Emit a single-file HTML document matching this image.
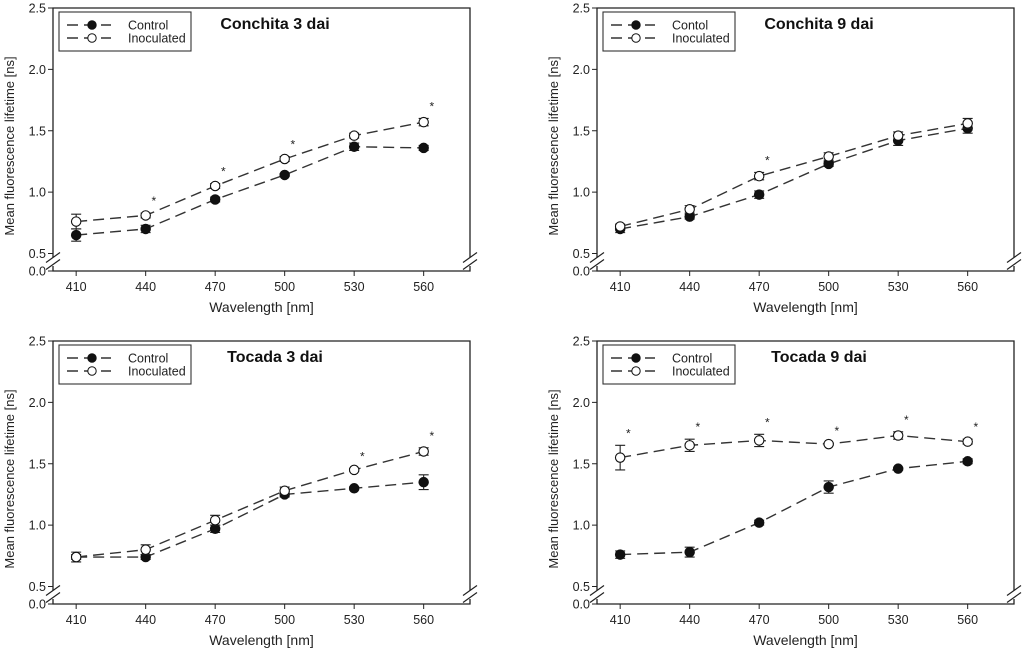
<!DOCTYPE html>
<html><head><meta charset="utf-8"><style>
html,body{margin:0;padding:0;background:#fff;width:1024px;height:652px;overflow:hidden}
svg{display:block;font-family:"Liberation Sans",Arial,sans-serif}
</style></head><body>
<svg id="chart" width="1024" height="652" viewBox="0 0 1024 652" xmlns="http://www.w3.org/2000/svg"></svg>
<script>
const wavelengths = [410, 440, 470, 500, 530, 560];
const yTicks = [0.5, 1.0, 1.5, 2.0, 2.5];
const panelTitles = ["Conchita 3 dai", "Conchita 9 dai", "Tocada 3 dai", "Tocada 9 dai"];
const legendLabels = [["Control","Inoculated"],["Contol","Inoculated"],["Control","Inoculated"],["Control","Inoculated"]];
const c3Control = [0.65, 0.70, 0.94, 1.14, 1.37, 1.36];
const c3ControlErr = [0.05, 0.03, 0.02, 0.01, 0.03, 0.02];
const c3Inoc = [0.76, 0.81, 1.05, 1.27, 1.46, 1.57];
const c3InocErr = [0.06, 0.02, 0.02, 0.02, 0.02, 0.03];
const c3Stars = [false, true, true, true, false, true];
const c9Control = [0.70, 0.80, 0.98, 1.23, 1.42, 1.52];
const c9ControlErr = [0.03, 0.02, 0.03, 0.02, 0.04, 0.04];
const c9Inoc = [0.72, 0.86, 1.13, 1.29, 1.46, 1.56];
const c9InocErr = [0.02, 0.03, 0.03, 0.03, 0.03, 0.04];
const c9Stars = [false, false, true, false, false, false];
const t3Control = [0.74, 0.74, 0.97, 1.25, 1.30, 1.35];
const t3ControlErr = [0.02, 0.02, 0.03, 0.02, 0.01, 0.06];
const t3Inoc = [0.74, 0.80, 1.04, 1.28, 1.45, 1.60];
const t3InocErr = [0.04, 0.04, 0.04, 0.03, 0.01, 0.03];
const t3Stars = [false, false, false, false, true, true];
const t9Control = [0.76, 0.78, 1.02, 1.31, 1.46, 1.52];
const t9ControlErr = [0.03, 0.04, 0.02, 0.05, 0.01, 0.02];
const t9Inoc = [1.55, 1.65, 1.69, 1.66, 1.73, 1.68];
const t9InocErr = [0.10, 0.05, 0.05, 0.01, 0.03, 0.02];
const t9Stars = [true, true, true, true, true, true];

const panels = [
  {L:53,T:8,ctl:c3Control,ce:c3ControlErr,ino:c3Inoc,ie:c3InocErr,st:c3Stars},
  {L:597,T:8,ctl:c9Control,ce:c9ControlErr,ino:c9Inoc,ie:c9InocErr,st:c9Stars},
  {L:53,T:341,ctl:t3Control,ce:t3ControlErr,ino:t3Inoc,ie:t3InocErr,st:t3Stars},
  {L:597,T:341,ctl:t9Control,ce:t9ControlErr,ino:t9Inoc,ie:t9InocErr,st:t9Stars}
];
const svg = document.getElementById('chart');
const NS = "http://www.w3.org/2000/svg";
function mk(tag, attrs, parent, text){
  const e = document.createElementNS(NS, tag);
  for (const k in attrs) e.setAttribute(k, attrs[k]);
  if (text !== undefined) e.textContent = text;
  (parent || svg).appendChild(e);
  return e;
}
const W = 417, H = 263, BR = 245.5;
panels.forEach((p, i) => {
  const g = mk('g', {});
  
  
  const xs = v => p.L + (v - 400) / 180 * W;
  const ys = v => p.T + (2.5 - v) / 2.0 * BR;
  const bot = p.T + H;
  const ax = mk('path', {d:`M${p.L},${p.T+BR+4} V${p.T} H${p.L+W} V${p.T+BR+4} M${p.L},${bot-5} V${bot} H${p.L+W} V${bot-5}`, fill:'none', stroke:'#222', 'stroke-width':1.3}, g);
  
  
  [p.L, p.L+W].forEach(x => {
    const b = mk('path', {d:`M${x-7},${p.T+BR+9} L${x+7},${p.T+BR-1} M${x-7},${p.T+BR+16} L${x+7},${p.T+BR+6}`, stroke:'#222', 'stroke-width':1.2, fill:'none'}, g);
    
    
  });
  yTicks.forEach(t => {
    const y = ys(t);
    mk('line', {x1:p.L-5, x2:p.L, y1:y, y2:y, stroke:'#222'}, g);
    const tl = mk('text', {x:p.L-7, y:y+4.5, 'text-anchor':'end', 'font-size':12.5, fill:'#222'}, g, t.toFixed(1));
    
    
  });
  mk('line', {x1:p.L-5, x2:p.L, y1:bot, y2:bot, stroke:'#222'}, g);
  const z = mk('text', {x:p.L-7, y:bot+4.5, 'text-anchor':'end', 'font-size':12.5, fill:'#222'}, g, '0.0');
  
  
  wavelengths.forEach(w => {
    const x = xs(w);
    mk('line', {x1:x, x2:x, y1:bot, y2:bot+5, stroke:'#222'}, g);
    const tl = mk('text', {x:x, y:bot+20, 'text-anchor':'middle', 'font-size':12.5, fill:'#222'}, g, String(w));
    
    
  });
  const xt = mk('text', {x:p.L+W/2, y:bot+41, 'text-anchor':'middle', 'font-size':14, fill:'#222'}, g, 'Wavelength [nm]');
  
  
  const ytx = p.L - 39, yty = p.T + 138;
  const yt = mk('text', {x:ytx, y:yty, 'text-anchor':'middle', 'font-size':13, fill:'#222', transform:`rotate(-90 ${ytx} ${yty})`}, g, 'Mean fluorescence lifetime [ns]');
  
  
  const ti = mk('text', {x:p.L+222, y:p.T+21, 'text-anchor':'middle', 'font-size':16, 'font-weight':'bold', fill:'#111'}, g, panelTitles[i]);
  
  
  [[p.ctl, p.ce, '#111', 'control'], [p.ino, p.ie, '#fff', 'inoculated']].forEach(([vals, errs, fill, nm]) => {
    const d = vals.map((v, k) => (k ? 'L' : 'M') + xs(wavelengths[k]) + ',' + ys(v)).join(' ');
    const ln = mk('path', {d, fill:'none', stroke:'#333', 'stroke-width':1.4, 'stroke-dasharray':'11,6'}, g);
    
    
    vals.forEach((v, k) => {
      const x = xs(wavelengths[k]);
      const y1 = ys(v + errs[k]), y2 = ys(v - errs[k]);
      const eb = mk('path', {d:`M${x},${y1} V${y2} M${x-5},${y1} H${x+5} M${x-5},${y2} H${x+5}`, stroke:'#222', 'stroke-width':1.1, fill:'none'}, g);
      
      
      const c = mk('circle', {cx:x, cy:ys(v), r:4.7, fill, stroke:'#111', 'stroke-width':1.1}, g);
      
      
    });
  });
  p.st.forEach((s, k) => {
    if (!s) return;
    const top = Math.max(p.ino[k] + p.ie[k], p.ctl[k] + p.ce[k]);
    const st = mk('text', {x:xs(wavelengths[k] + 3.5), y:ys(top) - 8, 'text-anchor':'middle', 'font-size':12, fill:'#222'}, g, '*');
    
    
  });
  const lg = mk('g', {}, g);
  
  
  mk('rect', {x:p.L+6, y:p.T+4, width:132, height:39, fill:'#fff', stroke:'#333', 'stroke-width':1.1}, lg);
  [['#111', 0], ['#fff', 1]].forEach(([f, r]) => {
    const y = p.T + 17 + r * 13;
    const e = mk('g', {}, lg);
    
    
    mk('path', {d:`M${p.L+14},${y} H${p.L+58}`, stroke:'#333', 'stroke-width':1.4, 'stroke-dasharray':'11,6'}, e);
    mk('circle', {cx:p.L+39, cy:y, r:4.2, fill:f, stroke:'#111'}, e);
    mk('text', {x:p.L+75, y:y+4.5, 'font-size':12.5, fill:'#222'}, e, legendLabels[i][r]);
  });
});
</script>
</body></html>
